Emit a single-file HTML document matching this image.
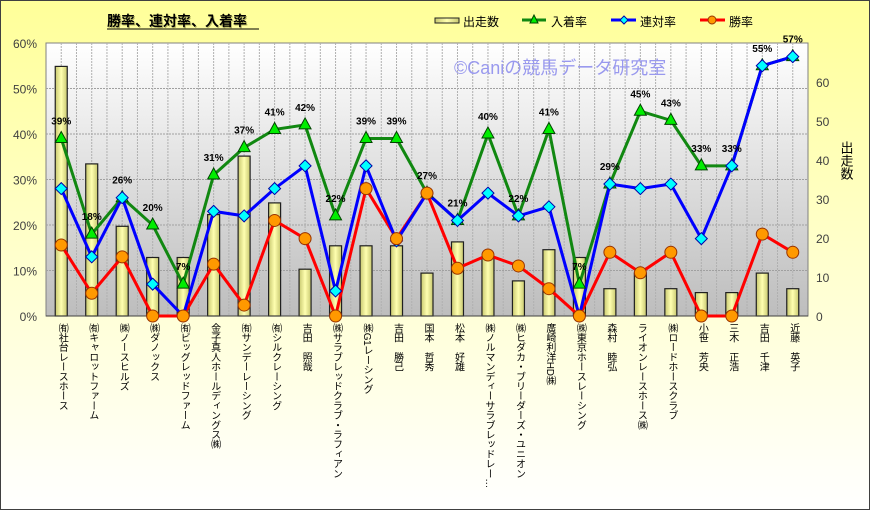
<!DOCTYPE html>
<html><head><meta charset="utf-8">
<style>
body{margin:0;width:870px;height:510px;overflow:hidden;font-family:"Liberation Sans","Noto Sans CJK JP",sans-serif;}
#wrap{position:relative;width:868px;height:508px;border:1px solid #404040;background:linear-gradient(#ffff99,#fffff0 85%,#ffffff);overflow:hidden;}
.xl{position:absolute;top:322px;writing-mode:vertical-rl;font-size:10px;color:#000;white-space:nowrap;line-height:12px;letter-spacing:-0.3px;}
</style></head><body>
<div id="wrap">
<svg id="s" width="868" height="508" style="position:absolute;left:0;top:0"></svg>
</div>
<script>
const L=45,R=807,T=42,B=315,n=25,w=(R-L)/n;
const cx=i=>L+w*(i+0.5);
const yp=v=>B-(B-T)*v/60, yc=v=>B-(B-T)*v/70;
const bars=[64,39,23,15,15,26,41,29,12,18,18,18,11,19,15,9,17,15,7,11,7,6,6,11,7];
const g=[39,18,26,20,7,31,37,41,42,22,39,39,27,21,40,22,41,7,29,45,43,33,33,55,57];
const b=[28,13,26,7,0,23,22,28,33,5.5,33,16.5,27,21,27,22,24,0,29,28,29,17,33,55,57];
const r=[15.6,5,13,0,0,11.4,2.4,21,17,0,28,17,27,10.5,13.4,11,6,0,14,9.5,14,0,0,18,14];
const names=["㈲社台レースホース","㈲キャロットファーム","㈱ノースヒルズ","㈱ダノックス","㈲ビッグレッドファーム","金子真人ホールディングス㈱","㈲サンデーレーシング","㈲シルクレーシング","吉田　照哉","㈱サラブレッドクラブ・ラフィアン","㈱G1レーシング","吉田　勝己","国本　哲秀","松本　好雄","㈱ノルマンディーサラブレッドレー…","㈱ヒダカ・ブリーダーズ・ユニオン","廣崎利洋HD㈱","㈱東京ホースレーシング","森村　睦弘","ライオンレースホース㈱","㈱ロードホースクラブ","小笹　芳央","三木　正浩","吉田　千津","近藤　英子"];
let s='<defs><linearGradient id="pg" x1="0" y1="0" x2="0" y2="1"><stop offset="0" stop-color="#ffffff"/><stop offset="1" stop-color="#bdbdbd"/></linearGradient><linearGradient id="bg" x1="0" y1="0" x2="1" y2="0"><stop offset="0" stop-color="#c8c870"/><stop offset="0.5" stop-color="#ffffb0"/><stop offset="1" stop-color="#c8c870"/></linearGradient></defs>';
s+=`<rect x="${L}" y="${T}" width="${R-L}" height="${B-T}" fill="url(#pg)" stroke="#808080"/>`;
for(let i=1;i<6;i++){let y=yp(i*10);s+=`<line x1="${L}" x2="${R}" y1="${y}" y2="${y}" stroke="#a0a0a0" stroke-dasharray="2,1"/>`;}
for(let i=1;i<n*2;i++){let x=L+w*i/2;s+=`<line x1="${x}" x2="${x}" y1="${T}" y2="${B}" stroke="#b0b0b0" stroke-dasharray="2,1"/>`;}
s+=`<text x="453" y="73" font-size="18" fill="#9999ee" font-family="Liberation Sans,Noto Sans CJK JP,sans-serif">©Caniの競馬データ研究室</text>`;
for(let i=0;i<n;i++){let y=yc(bars[i]);s+=`<rect x="${cx(i)-6}" y="${y}" width="12" height="${B-y}" fill="url(#bg)" stroke="#202020" stroke-width="1.2"/>`;}
s+=`<line x1="${L}" x2="${R}" y1="${B}" y2="${B}" stroke="#404040"/>`;
const pl=(a,c)=>`<polyline fill="none" stroke="${c}" stroke-width="3" points="${a.map((v,i)=>cx(i)+','+yp(v)).join(' ')}"/>`;
s+=pl(r,'#ff0000')+pl(g,'#118811')+pl(b,'#0000ff');
for(let i=0;i<n;i++){let x=cx(i),y=yp(g[i]);s+=`<polygon points="${x},${y-7} ${x-6},${y+4} ${x+6},${y+4}" fill="#00ee00" stroke="#004400"/>`;
s+=`<text x="${x}" y="${y-14}" font-size="10" font-weight="bold" text-anchor="middle">${g[i]}%</text>`;}
for(let i=0;i<n;i++){let x=cx(i),y=yp(b[i]);s+=`<polygon points="${x},${y-6} ${x+6},${y} ${x},${y+6} ${x-6},${y}" fill="#00ffff" stroke="#0000aa"/>`;}
for(let i=0;i<n;i++){s+=`<circle cx="${cx(i)}" cy="${yp(r[i])}" r="6" fill="#ff9900" stroke="#993300"/>`;}
for(let i=0;i<=6;i++){s+=`<text x="36" y="${yp(i*10)+5}" font-size="12" fill="#404040" text-anchor="end">${i*10}%</text>`;
s+=`<text x="815" y="${yc(i*10)+5}" font-size="12" fill="#404040">${i*10}</text>`;}
s+=`<text x="845" y="140" font-size="13" style="writing-mode:vertical-rl">出走数</text>`;
s+=`<text x="107" y="26" font-size="14" font-weight="bold" fill="#bbbb66">勝率、連対率、入着率</text><text x="106" y="25" font-size="14" font-weight="bold">勝率、連対率、入着率</text><line x1="106" x2="258" y1="28" y2="28" stroke="#000"/>`;
s+=`<rect x="434" y="17" width="24" height="5" fill="url(#bg)" stroke="#222"/><text x="462" y="25" font-size="12">出走数</text>`;
s+=`<line x1="521" x2="545" y1="19" y2="19" stroke="#118811" stroke-width="3"/><polygon points="533,14 529,22 537,22" fill="#00ee00" stroke="#004400"/><text x="550" y="25" font-size="12">入着率</text>`;
s+=`<line x1="610" x2="635" y1="19" y2="19" stroke="#0000ff" stroke-width="3"/><polygon points="623,15 627,19 623,23 619,19" fill="#00ffff" stroke="#0000aa"/><text x="639" y="25" font-size="12">連対率</text>`;
s+=`<line x1="699" x2="724" y1="19" y2="19" stroke="#ff0000" stroke-width="3"/><circle cx="711" cy="19" r="4" fill="#ff9900" stroke="#993300"/><text x="728" y="25" font-size="12">勝率</text>`;
document.getElementById('s').innerHTML=s;
let h='';names.forEach((t,i)=>{h+=`<div class="xl" style="left:${cx(i)-6}px">${t}</div>`;});
document.getElementById('wrap').insertAdjacentHTML('beforeend',h);
</script>
</body></html>
